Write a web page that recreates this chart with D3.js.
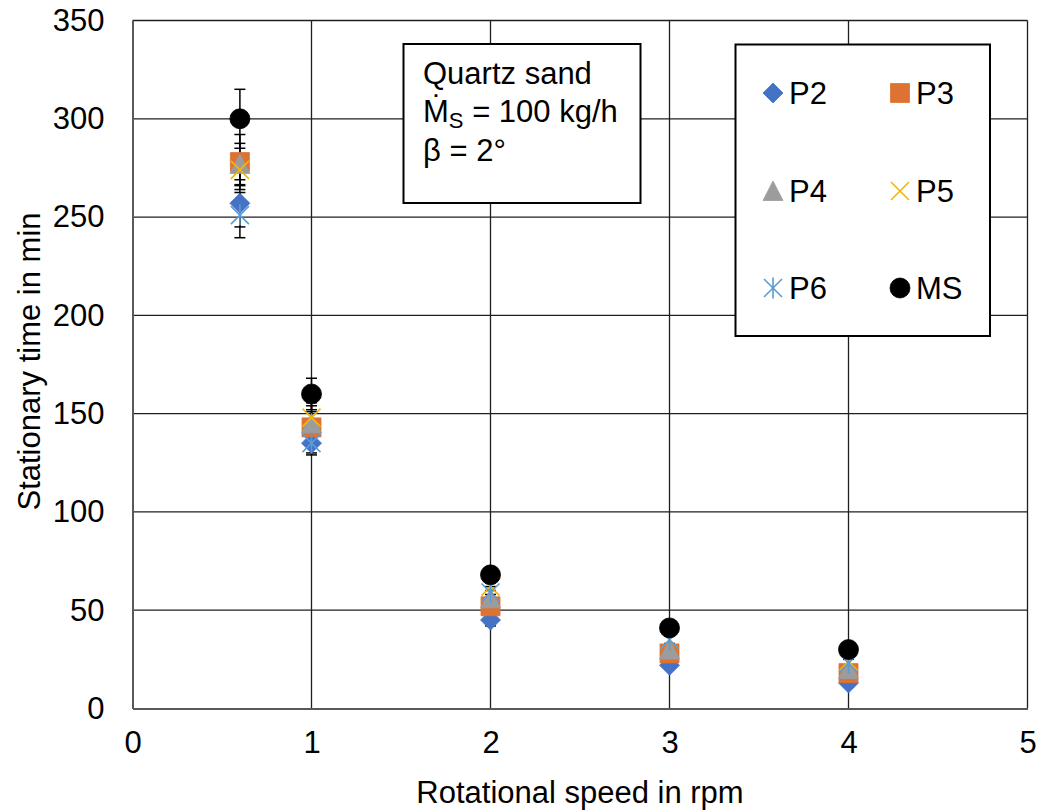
<!DOCTYPE html>
<html>
<head>
<meta charset="utf-8">
<script src="https://cdn.jsdelivr.net/npm/d3@7"></script>
<style>
  html, body { margin: 0; padding: 0; background: #fff; }
  text { font-family: "Liberation Sans", Arial, sans-serif; fill: #000; }
</style>
</head>
<body>
<svg id="chart" width="1044" height="812"></svg>
<script>
// Rotational speed (rpm) at which each stationary time was measured
const speeds = [0.6, 1, 2, 3, 4];

// Stationary time in min per measuring position
const seriesNames = ["P2", "P3", "P4", "P5", "P6", "MS"];
const valuesP2 = [257, 135, 45, 22, 13];
const valuesP3 = [278, 143, 52, 28, 18];
const valuesP4 = [277, 145, 56, 30, 20];
const valuesP5 = [274, 148, 62, 35, 24];
const valuesP6 = [251, 135, 59, 35, 23];
const valuesMS = [300, 160, 68, 41, 30];

// Standard deviations (min)
const errP2 = [12, 6, 3, 2, 2];
const errP3 = [14, 8, 4, 3, 2];
const errP4 = [10.5, 9, 4, 3, 2];
const errP5 = [8, 7.5, 4, 3, 2];
const errP6 = [11.5, 5, 3, 2, 2];
const errMS = [15, 8, 4, 3, 3];

const xTicks = [0, 1, 2, 3, 4, 5];
const yTicks = [0, 50, 100, 150, 200, 250, 300, 350];

const xTitle = "Rotational speed in rpm";
const yTitle = "Stationary time in min";
const infoLines = ["Quartz sand", "= 100 kg/h", "β = 2°"];

const colors = {
  P2: "#4472C4", P3: "#DD7232", P4: "#9C9C9C",
  P5: "#F2B705", P6: "#5B9BD5", MS: "#000000"
};

const series = [
  { name: "P2", values: valuesP2, err: errP2, shape: "diamond" },
  { name: "P3", values: valuesP3, err: errP3, shape: "square" },
  { name: "P4", values: valuesP4, err: errP4, shape: "triangle" },
  { name: "P5", values: valuesP5, err: errP5, shape: "cross" },
  { name: "P6", values: valuesP6, err: errP6, shape: "star" },
  { name: "MS", values: valuesMS, err: errMS, shape: "circle" }
];

const svg = d3.select("#chart");
const plotL = 132.5, plotR = 1027.5, plotT = 20.5, plotB = 708.5;
const FS = 31;

const x = d3.scaleLinear().domain([0, 5]).range([plotL, plotR]);
const y = d3.scaleLinear().domain([0, 350]).range([plotB, plotT]);

// grid
const grid = svg.append("g");
grid.selectAll(".vg").data(xTicks.filter(d => d > 0)).enter().append("line")
  .attr("x1", d => x(d)).attr("x2", d => x(d))
  .attr("y1", plotT).attr("y2", plotB)
  .attr("stroke", "#1f1f1f").attr("stroke-width", 1.3);
grid.selectAll(".hg").data(yTicks.filter(d => d > 0)).enter().append("line")
  .attr("x1", plotL).attr("x2", plotR)
  .attr("y1", d => y(d)).attr("y2", d => y(d))
  .attr("stroke", "#1f1f1f").attr("stroke-width", 1.3);

// axes
const xAxis = d3.axisBottom(x).tickValues(xTicks).tickSize(0).tickPadding(22).tickFormat(d3.format("d"));
const yAxis = d3.axisLeft(y).tickValues(yTicks).tickSize(0).tickPadding(28).tickFormat(d3.format("d"));

const gx = svg.append("g").attr("transform", `translate(0,${plotB})`).call(xAxis);
const gy = svg.append("g").attr("transform", `translate(${plotL},0)`).call(yAxis);
[gx, gy].forEach(g => {
  g.select(".domain").attr("stroke", "#595959").attr("stroke-width", 2);
  g.selectAll("text").attr("font-size", FS)
    .attr("font-family", "'Liberation Sans', Arial, sans-serif").attr("fill", "#000");
});

// axis titles
svg.append("text").attr("x", (plotL + plotR) / 2).attr("y", 803)
  .attr("text-anchor", "middle").attr("font-size", FS).text(xTitle);
svg.append("text")
  .attr("transform", `translate(40,${(plotT + plotB) / 2 - 3}) rotate(-90)`)
  .attr("text-anchor", "middle").attr("font-size", FS).text(yTitle);

// marker shapes
function markerPath(shape) {
  switch (shape) {
    case "diamond": return "M0,-10L10,0L0,10L-10,0Z";
    case "square": return "M-9.5,-9.5H9.5V9.5H-9.5Z";
    case "triangle": return "M0,-10L10,9.5L-10,9.5Z";
    case "cross": return "M-9,-9L9,9M9,-9L-9,9";
    case "star": return "M-9,-9L9,9M9,-9L-9,9M0,-10.5V10.5";
    case "circle": return "M10,0A10,10,0,1,1,-10,0A10,10,0,1,1,10,0Z";
  }
}
function drawMarker(g, s) {
  const open = s.shape === "cross" || s.shape === "star";
  g.append("path").attr("d", markerPath(s.shape))
    .attr("fill", open ? "none" : colors[s.name])
    .attr("stroke", colors[s.name])
    .attr("stroke-width", open ? 1.6 : 0.8);
}

// error bars (behind markers)
const eb = svg.append("g");
series.forEach(s => {
  speeds.forEach((sp, i) => {
    const cx = x(sp), y1 = y(s.values[i] + s.err[i]), y2 = y(s.values[i] - s.err[i]);
    eb.append("line").attr("x1", cx).attr("x2", cx).attr("y1", y1).attr("y2", y2)
      .attr("stroke", "#000").attr("stroke-width", 1.5);
    [y1, y2].forEach(yy => eb.append("line")
      .attr("x1", cx - 5.5).attr("x2", cx + 5.5).attr("y1", yy).attr("y2", yy)
      .attr("stroke", "#000").attr("stroke-width", 1.5));
  });
});

// markers
const pts = svg.append("g");
series.forEach(s => {
  speeds.forEach((sp, i) => {
    const g = pts.append("g").attr("transform", `translate(${x(sp)},${y(s.values[i])})`);
    drawMarker(g, s);
  });
});

// info box
const info = svg.append("g");
info.append("rect").attr("x", 403.5).attr("y", 44).attr("width", 237).attr("height", 159)
  .attr("fill", "#fff").attr("stroke", "#000").attr("stroke-width", 2);
info.append("text").attr("x", 423).attr("y", 84).attr("font-size", FS).text(infoLines[0]);
const l2 = info.append("text").attr("x", 423).attr("y", 122).attr("font-size", FS);
l2.append("tspan").text("Ṁ");
l2.append("tspan").attr("font-size", 22).attr("dy", 6).text("S");
l2.append("tspan").attr("dy", -6).text(" " + infoLines[1]);
info.append("text").attr("x", 423).attr("y", 161).attr("font-size", FS).text(infoLines[2]);

// legend
const leg = svg.append("g");
leg.append("rect").attr("x", 735.5).attr("y", 44.5).attr("width", 254.5).attr("height", 291.5)
  .attr("fill", "#fff").attr("stroke", "#000").attr("stroke-width", 2);
const legCols = [773, 900], legRows = [93, 191, 288];
series.forEach((s, k) => {
  const cx = legCols[k % 2], cy = legRows[Math.floor(k / 2)];
  const g = leg.append("g").attr("transform", `translate(${cx},${cy})`);
  drawMarker(g, s);
  leg.append("text").attr("x", cx + 16).attr("y", cy).attr("dy", "0.36em")
    .attr("font-size", FS).text(s.name);
});
</script>
</body>
</html>
